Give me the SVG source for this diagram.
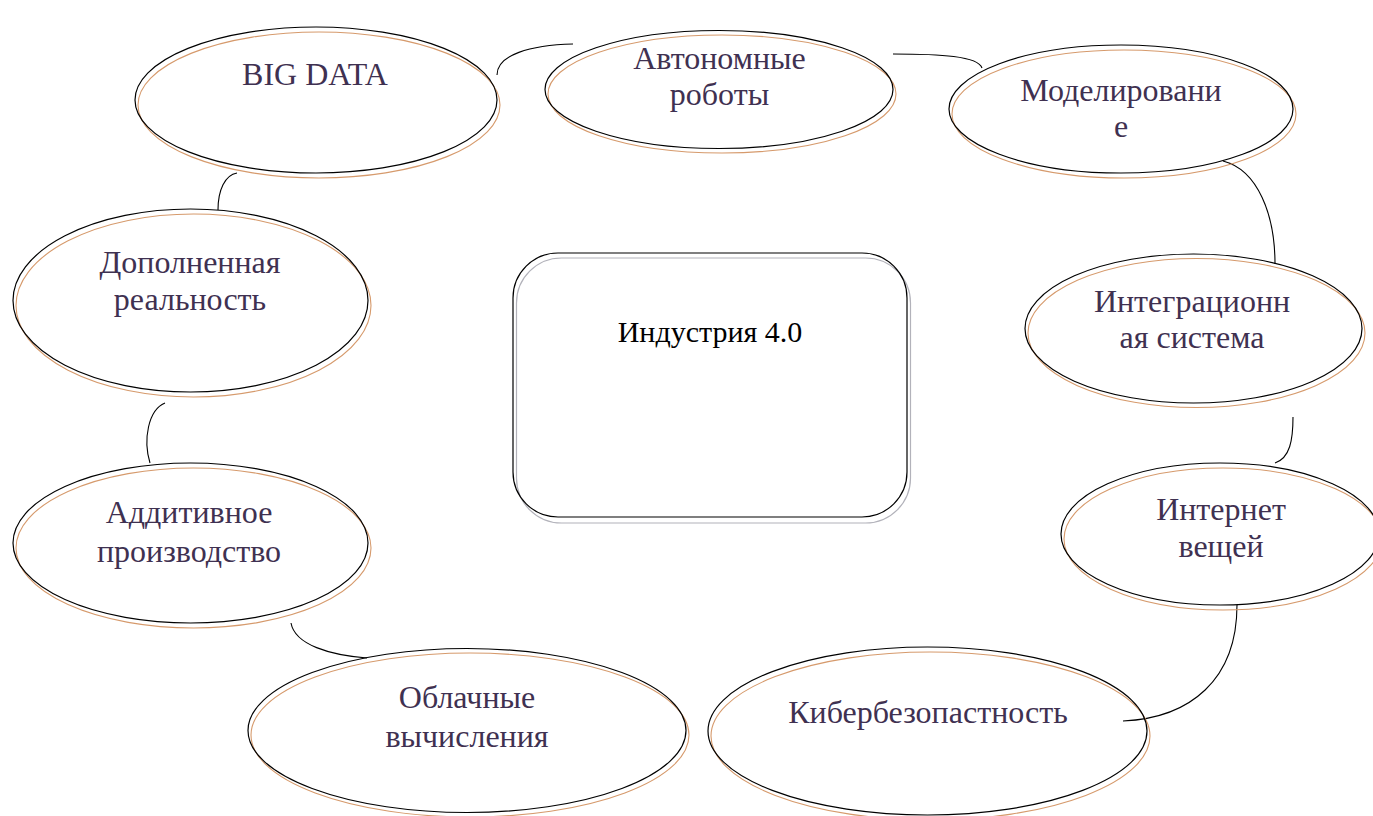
<svg xmlns="http://www.w3.org/2000/svg" width="1373" height="816" viewBox="0 0 1373 816">
<style>
.bk{fill:none;stroke:#000;stroke-width:1.2}
.or{fill:none;stroke:#d69a6c;stroke-width:1.1}
.gr{fill:none;stroke:#b2b2ba;stroke-width:1.2}
.t{font-family:"Liberation Serif","Times New Roman",serif;font-size:32px;fill:#3f3151;text-anchor:middle}
.c{font-family:"Liberation Serif","Times New Roman",serif;font-size:30px;fill:#000;text-anchor:middle}
.ln{fill:none;stroke:#000;stroke-width:1.1}
</style>
<rect width="1373" height="816" fill="#fff"/>
<g id="connectors">
<path class="ln" d="M497,75 C497,55 530,45 573,44"/>
<path class="ln" d="M893,54 C940,54 978,56 982,68"/>
<path class="ln" d="M1223,161 C1258,170 1275,215 1275,264"/>
<path class="ln" d="M1293,417 C1293,440 1290,458 1275,463"/>
<path class="ln" d="M1237,605 C1237,680 1190,718 1123,721"/>
<path class="ln" d="M291,623 C295,645 330,655 367,658"/>
<path class="ln" d="M165,403 C148,410 143,440 150,463"/>
<path class="ln" d="M237,173 C225,175 218,190 218,210"/>
</g>
<g id="center">
<rect class="gr" x="516.5" y="258" width="394" height="265" rx="45"/>
<rect class="bk" x="513" y="253" width="394" height="264" rx="45"/>
<text class="c" x="710" y="342">Индустрия 4.0</text>
</g>
<g id="bigdata">
<ellipse class="or" cx="319" cy="105" rx="181" ry="73"/>
<ellipse class="bk" cx="316" cy="100" rx="181" ry="73"/>
<text class="t" x="315" y="85">BIG DATA</text>
</g>
<g id="robots">
<ellipse class="or" cx="722" cy="94" rx="174" ry="59"/>
<ellipse class="bk" cx="719" cy="89.5" rx="174" ry="59"/>
<text class="t" x="719.5" y="69">Автономные</text>
<text class="t" x="719.5" y="105">роботы</text>
</g>
<g id="modeling">
<ellipse class="or" cx="1124" cy="114" rx="172" ry="64"/>
<ellipse class="bk" cx="1121" cy="109" rx="172" ry="64"/>
<text class="t" x="1121" y="101">Моделировани</text>
<text class="t" x="1121" y="137">е</text>
</g>
<g id="integration">
<ellipse class="or" cx="1196.5" cy="333" rx="168.5" ry="74.5"/>
<ellipse class="bk" cx="1193.5" cy="328.5" rx="168.5" ry="74.5"/>
<text class="t" x="1192" y="312">Интеграционн</text>
<text class="t" x="1192" y="348">ая система</text>
</g>
<g id="iot">
<ellipse class="or" cx="1223" cy="539" rx="159" ry="71"/>
<ellipse class="bk" cx="1220" cy="534" rx="159" ry="71"/>
<text class="t" x="1221" y="520">Интернет</text>
<text class="t" x="1221" y="557">вещей</text>
</g>
<g id="cyber">
<ellipse class="or" cx="930.5" cy="736" rx="219.5" ry="84"/>
<ellipse class="bk" cx="927.5" cy="731" rx="219.5" ry="84"/>
<text class="t" x="928" y="723">Кибербезопастность</text>
</g>
<g id="cloud">
<ellipse class="or" cx="470" cy="735" rx="219" ry="82"/>
<ellipse class="bk" cx="467" cy="730.5" rx="219" ry="82"/>
<text class="t" x="467" y="708">Облачные</text>
<text class="t" x="467" y="747">вычисления</text>
</g>
<g id="additive">
<ellipse class="or" cx="193.5" cy="548" rx="177.5" ry="80"/>
<ellipse class="bk" cx="190.5" cy="543" rx="177.5" ry="80"/>
<text class="t" x="189" y="523">Аддитивное</text>
<text class="t" x="189" y="562">производство</text>
</g>
<g id="ar">
<ellipse class="or" cx="193.5" cy="305.5" rx="177.5" ry="91.5"/>
<ellipse class="bk" cx="190.5" cy="300.5" rx="177.5" ry="91.5"/>
<text class="t" x="190" y="273">Дополненная</text>
<text class="t" x="190" y="310">реальность</text>
</g>
</svg>
